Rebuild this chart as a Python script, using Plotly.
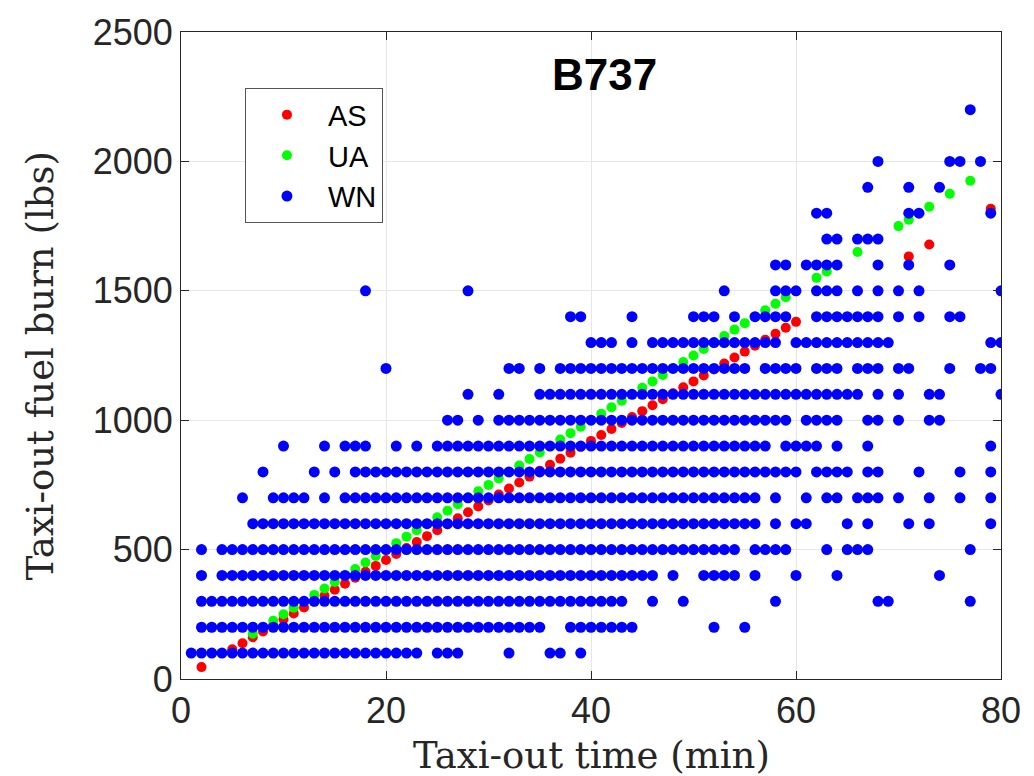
import plotly.graph_objects as go

as_x = [2, 5, 6, 7, 8, 9, 10, 11, 12, 13, 14, 15, 16, 17, 18, 19, 20, 21, 22, 23, 24, 25, 26, 27, 28, 29,
        30, 31, 32, 33, 34, 35, 36, 37, 38, 39, 40, 41, 42, 43, 44, 45, 46, 47, 48, 49, 50, 51, 52, 53,
        54, 55, 56, 57, 58, 59, 60, 71, 73, 79]
as_y = [46, 115, 138, 161, 184, 207, 230, 253, 276, 299, 322, 345, 368, 391, 414, 437, 460, 483, 506, 529,
        552, 575, 598, 621, 644, 667, 690, 713, 736, 759, 782, 805, 828, 851, 874, 897, 920, 943, 966, 989,
        1012, 1035, 1058, 1081, 1104, 1127, 1150, 1173, 1196, 1219, 1242, 1265, 1288, 1311, 1334, 1357,
        1380, 1633, 1679, 1817]

# ---- UA ----
ua_x = [7, 8, 9, 10, 11, 12, 13, 14, 15, 16, 17, 18, 19, 20, 21, 22, 23, 24, 25, 26, 27, 28, 29, 30, 31,
        32, 33, 34, 35, 36, 37, 38, 39, 40, 41, 42, 43, 44, 45, 46, 47, 48, 49, 50, 51, 52, 53, 54, 55,
        56, 57, 58, 59, 62, 63, 66, 70, 71, 73, 75, 77]
ua_y = [175, 200, 225, 250, 275, 300, 325, 350, 375, 400, 425, 450, 475, 500, 525, 550, 575, 600, 625,
        650, 675, 700, 725, 750, 775, 800, 825, 850, 875, 900, 925, 950, 975, 1000, 1025, 1050, 1075,
        1100, 1125, 1150, 1175, 1200, 1225, 1250, 1275, 1300, 1325, 1350, 1375, 1400, 1425, 1450, 1475,
        1550, 1575, 1650, 1750, 1775, 1825, 1875, 1925]

# ---- WN: taxi-out minutes present at each fuel-burn level ----
wn_100 = [1, 2, 3, 4, 5, 6, 7, 8, 9, 10, 11, 12, 13, 14, 15, 16, 17, 18, 19, 20, 21, 22, 23, 25, 26, 27,
          32, 36, 37, 39]
wn_200 = [2, 3, 4, 5, 6, 7, 8, 9, 10, 11, 12, 13, 14, 15, 16, 17, 18, 19, 20, 21, 22, 23, 24, 25, 26, 27,
          28, 29, 30, 31, 32, 33, 34, 35, 38, 39, 40, 41, 42, 43, 44, 52, 55]
wn_300 = [2, 3, 4, 5, 6, 7, 8, 9, 10, 11, 12, 13, 14, 15, 16, 17, 18, 19, 20, 21, 22, 23, 24, 25, 26, 27,
          28, 29, 30, 31, 32, 33, 34, 35, 36, 37, 38, 39, 40, 41, 42, 43, 46, 49, 58, 68, 69, 77]
wn_400 = [2, 4, 5, 6, 7, 8, 9, 10, 11, 12, 13, 14, 15, 16, 17, 18, 19, 20, 21, 22, 23, 24, 25, 26, 27, 28,
          29, 30, 31, 32, 33, 34, 35, 36, 37, 38, 39, 40, 41, 42, 43, 44, 45, 46, 48, 51, 52, 53, 54, 56,
          60, 64, 74]
wn_500 = [2, 4, 5, 6, 7, 8, 9, 10, 11, 12, 13, 14, 15, 16, 17, 18, 19, 20, 21, 22, 23, 24, 25, 26, 27, 28,
          29, 30, 31, 32, 33, 34, 35, 36, 37, 38, 39, 40, 41, 42, 43, 44, 45, 46, 47, 48, 49, 50, 51, 52,
          53, 54, 56, 57, 58, 59, 63, 65, 66, 67, 77]
wn_600 = [7, 8, 9, 10, 11, 12, 13, 14, 15, 16, 17, 18, 19, 20, 21, 22, 23, 24, 25, 26, 27, 28, 29, 30, 31,
          32, 33, 34, 35, 36, 37, 38, 39, 40, 41, 42, 43, 44, 45, 46, 47, 48, 49, 50, 51, 52, 53, 54, 55,
          56, 58, 60, 61, 65, 67, 71, 73, 79]
wn_700 = [6, 9, 10, 11, 12, 14, 16, 17, 18, 19, 20, 21, 22, 23, 24, 25, 26, 27, 28, 29, 30, 31, 32, 33, 34,
          35, 36, 37, 38, 39, 40, 41, 42, 43, 44, 45, 46, 47, 48, 49, 50, 51, 52, 53, 54, 55, 56, 58, 61,
          63, 64, 66, 67, 68, 70, 73, 76, 79]
wn_800 = [8, 13, 15, 17, 18, 19, 20, 21, 22, 23, 24, 25, 26, 27, 28, 29, 30, 31, 32, 33, 34, 35, 36, 37,
          38, 39, 40, 41, 42, 43, 44, 45, 46, 47, 48, 49, 50, 51, 52, 53, 54, 55, 56, 57, 58, 59, 60, 62,
          63, 64, 65, 67, 68, 72, 76, 79]
wn_900 = [10, 14, 16, 17, 18, 21, 23, 25, 26, 27, 28, 29, 30, 31, 32, 33, 34, 35, 36, 37, 38, 39, 40, 41,
          42, 43, 44, 45, 46, 47, 48, 49, 50, 51, 52, 53, 54, 55, 56, 57, 59, 60, 61, 62, 64, 67, 79]
wn_1000 = [26, 27, 29, 31, 32, 33, 34, 35, 36, 37, 38, 39, 40, 41, 42, 43, 44, 45, 46, 47, 48, 49, 50, 51,
           52, 53, 54, 55, 56, 57, 58, 59, 61, 62, 63, 64, 67, 68, 70, 73, 74]
wn_1100 = [28, 31, 35, 36, 37, 38, 39, 40, 41, 42, 43, 44, 45, 46, 47, 48, 49, 50, 51, 52, 53, 54, 55, 56,
           57, 58, 59, 60, 61, 62, 63, 64, 65, 66, 68, 70, 73, 74, 80]
wn_1200 = [20, 32, 33, 35, 37, 38, 39, 40, 41, 42, 43, 44, 45, 46, 47, 48, 49, 50, 51, 52, 53, 54, 55, 57,
           58, 59, 60, 62, 63, 64, 66, 67, 68, 70, 71, 75, 78, 79]
wn_1300 = [40, 41, 42, 44, 46, 47, 48, 49, 50, 51, 52, 53, 54, 55, 56, 57, 58, 60, 61, 62, 63, 64, 65, 66,
           67, 68, 69, 79, 80]
wn_1400 = [38, 39, 44, 50, 51, 52, 54, 56, 57, 58, 59, 62, 63, 64, 65, 66, 67, 68, 70, 72, 75, 76]
wn_1500 = [18, 28, 53, 58, 59, 60, 62, 63, 64, 66, 68, 70, 72, 80]
wn_1600 = [58, 59, 61, 62, 63, 64, 68, 71, 75]
wn_1700 = [63, 64, 66, 67, 68]
wn_1800 = [62, 63, 71, 72, 79]
wn_1900 = [67, 71, 74]
wn_2000 = [68, 75, 76, 78]
wn_2200 = [77]

wn_levels = [100, 200, 300, 400, 500, 600, 700, 800, 900, 1000, 1100, 1200, 1300, 1400, 1500,
             1600, 1700, 1800, 1900, 2000, 2200]
wn_minutes = [wn_100, wn_200, wn_300, wn_400, wn_500, wn_600, wn_700, wn_800, wn_900, wn_1000,
              wn_1100, wn_1200, wn_1300, wn_1400, wn_1500, wn_1600, wn_1700, wn_1800, wn_1900,
              wn_2000, wn_2200]

wn_x, wn_y = [], []
for lvl, mins in zip(wn_levels, wn_minutes):
    wn_x.extend(mins)
    wn_y.extend([lvl] * len(mins))

fig = go.Figure()
fig.add_trace(go.Scatter(x=as_x, y=as_y, mode="markers", name="AS",
                         marker=dict(color="#ff0000", size=10)))
fig.add_trace(go.Scatter(x=ua_x, y=ua_y, mode="markers", name="UA",
                         marker=dict(color="#00ff00", size=10)))
fig.add_trace(go.Scatter(x=wn_x, y=wn_y, mode="markers", name="WN",
                         marker=dict(color="#0000ff", size=11)))

axis_common = dict(
    showline=True, linecolor="#262626", linewidth=1, mirror="ticks",
    ticks="inside", ticklen=8, tickcolor="#262626",
    showgrid=True, gridcolor="#e6e6e6", gridwidth=1, zeroline=False,
    tickfont=dict(family="Liberation Sans, Arial, sans-serif", size=36, color="#262626"),
)

fig.update_xaxes(range=[0, 80], tickvals=[0, 20, 40, 60, 80], **axis_common)
fig.update_yaxes(range=[0, 2500], tickvals=[0, 500, 1000, 1500, 2000, 2500], **axis_common)

fig.update_layout(
    width=1034, height=776,
    margin=dict(l=181, r=33, t=29, b=97),
    paper_bgcolor="white", plot_bgcolor="white",
    showlegend=True,
    legend=dict(
        x=0.078, y=0.913, xanchor="left", yanchor="top",
        bgcolor="white", bordercolor="#555555", borderwidth=1,
        font=dict(family="Liberation Sans, Arial, sans-serif", size=29, color="black"),
        itemwidth=72, tracegroupgap=0,
    ),
    annotations=[
        dict(text="<b>B737</b>", x=0.517, y=0.934, xref="paper", yref="paper",
             xanchor="center", yanchor="middle", showarrow=False,
             font=dict(family="Liberation Sans, Arial, sans-serif", size=44, color="black")),
        dict(text="Taxi-out time (min)", x=0.5, y=-0.118, xref="paper", yref="paper",
             xanchor="center", yanchor="middle", showarrow=False,
             font=dict(family="DejaVu Serif, serif", size=37, color="#262626")),
        dict(text="Taxi-out fuel burn (lbs)", x=-0.172, y=0.485, xref="paper", yref="paper",
             xanchor="center", yanchor="middle", showarrow=False, textangle=-90,
             font=dict(family="DejaVu Serif, serif", size=37, color="#262626")),
    ],
)

fig.write_html("out.html")
